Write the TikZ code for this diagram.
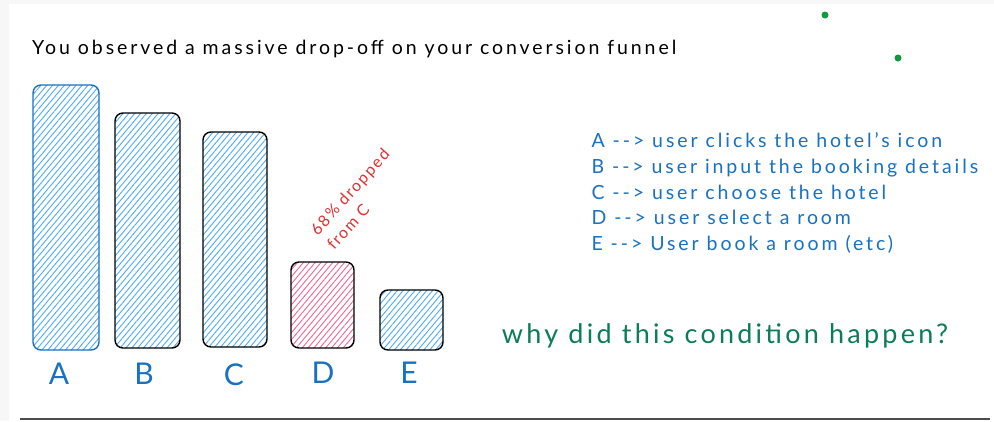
\documentclass[tikz,border=0pt]{standalone}
\usepackage{fontspec}
\setmainfont{Lato}
\usetikzlibrary{patterns.meta}
\definecolor{xblue}{HTML}{1971C2}
\definecolor{xhatch}{HTML}{4DABF7}
\definecolor{xpink}{HTML}{F06595}
\definecolor{xred}{HTML}{E03131}
\definecolor{xgreen}{HTML}{0B7D57}
\definecolor{xdot}{HTML}{0E9A3E}
\definecolor{xbg}{HTML}{F7F7F7}
\newcommand{\arr}{-{}-{}>}
\tikzset{
  bar/.style={draw=black, line width=1.4pt, rounded corners=8pt, inner sep=0pt,
    pattern={Lines[angle=50,distance=4.5pt,line width=0.9pt]}, pattern color=xhatch},
  pinkbar/.style={bar, pattern color=xpink},
  barlabel/.style={text=xblue, font=\fontsize{30}{32}\selectfont},
  legend/.style={text=xblue, font=\fontsize{19.5}{25.8}\selectfont\addfontfeature{LetterSpace=15}, align=left, anchor=north west},
  dot/.style={circle, fill=xdot, inner sep=0pt, minimum size=7pt}
}
\begin{document}
\begin{tikzpicture}[x=1pt,y=-1pt]
\fill[xbg] (0,0) rectangle (994,421);
\fill[white] (9,4) rectangle (994,421);
\useasboundingbox (0,0) rectangle (994,421);
% header
\node[font=\fontsize{19.5}{20}\selectfont\addfontfeature{LetterSpace=15}, anchor=west, inner sep=0pt] (title) at (32,49) {You observed a massive drop-off on your conversion funnel};
% bars
\node[bar, draw=xblue, minimum width=66pt, minimum height=265pt] (A) at (66,217.5) {};
\node[bar, minimum width=65pt, minimum height=235pt] (B) at (147.5,230.5) {};
\node[bar, minimum width=64pt, minimum height=215pt] (C) at (235,239.5) {};
\node[pinkbar, minimum width=63pt, minimum height=86pt] (D) at (322.5,305) {};
\node[bar, minimum width=63pt, minimum height=60pt] (E) at (411.5,320) {};
% bar labels
\node[barlabel] (la) at (59,374) {A};
\node[barlabel] (lb) at (144,374) {B};
\node[barlabel] (lc) at (234,375) {C};
\node[barlabel] (ld) at (323,373) {D};
\node[barlabel] (le) at (409,373) {E};
% rotated note
\node[text=xred, font=\fontsize{16}{22}\selectfont\addfontfeature{LetterSpace=10}, align=left, rotate=48, anchor=base west, inner sep=0pt] (note) at (334,251) {68\% dropped\\from C};
% legend
\node[legend] (legend) at (588,129) {A \arr{} user clicks the hotel's icon\\
B \arr{} user input the booking details\\
C \arr{} user choose the hotel\\
D \arr{} user select a room\\
E \arr{} User book a room (etc)};
% question
\node[text=xgreen, font=\fontsize{27}{30}\selectfont\addfontfeature{LetterSpace=12}] (q) at (725,336) {why did this condition happen?};
% dots
\node[dot] (d1) at (825,15) {};
\node[dot] (d2) at (898,58) {};
% bottom rule
\draw[line width=2pt, gray!60!black] (20,419) -- (990,419);
\end{tikzpicture}
\end{document}
